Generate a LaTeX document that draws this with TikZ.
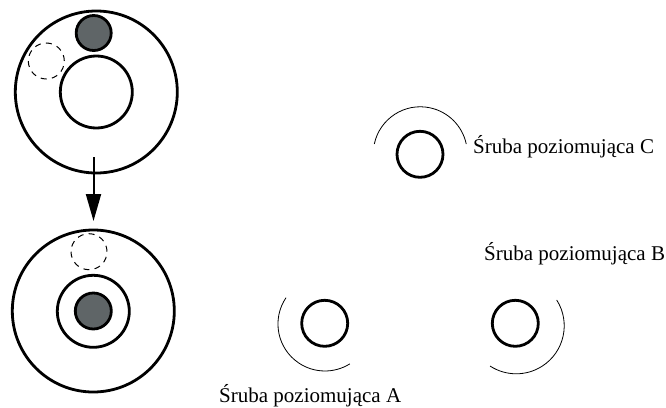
\documentclass[tikz,border=0pt]{standalone}
\usepackage{fontspec}
\setmainfont{Liberation Serif}
\usetikzlibrary{arrows.meta}
\definecolor{scrgray}{HTML}{5F6567}
\tikzset{
  x=1pt,y=-1pt,
  ring/.style={circle,draw=black,line width=2.8pt,minimum size=#1,inner sep=0pt,outer sep=0pt},
  filled/.style={ring=#1,fill=scrgray},
  ghost/.style={circle,draw=black,line width=1pt,dash pattern=on 6pt off 5.3pt,minimum size=#1,inner sep=0pt,outer sep=0pt},
  sweep/.style={draw=black,line width=0.8pt},
  lab/.style={anchor=base west,inner sep=0pt,font=\fontsize{21}{24}\selectfont},
  move/.style={draw=black,line width=2pt,-{Triangle[length=27pt,width=15pt]}}
}
\begin{document}
\begin{tikzpicture}
\useasboundingbox (0,0) rectangle (666,407);
\node[ring=162pt] (topbig) at (96.3,92) {};
\node[ring=72pt] (topin) at (96.3,92) {};
\node[filled=35pt] (topgray) at (93.7,33) {};
\node[ghost=36pt] (topdash) at (46.3,61) {};
\node[ring=162pt] (botbig) at (93.3,311) {};
\node[ring=72pt] (botin) at (93.3,311.3) {};
\node[filled=36pt] (botgray) at (93.3,311) {};
\node[ghost=36pt] (botdash) at (89,251.7) {};
\coordinate (arrowstart) at (93.5,157);
\coordinate (arrowend) at (93.5,221);
\draw[move] (arrowstart) -- (arrowend);
\node[ring=46pt] (screwC) at (420,154.3) {};
\node[ring=46pt] (screwA) at (324.7,323.3) {};
\node[ring=46pt] (screwB) at (515.3,323.3) {};
% y axis is flipped, so angles run clockwise on the page
\draw[sweep] (374.3,144) arc[start angle=-168,end angle=-12,radius=47];
\draw[sweep] (286,297.7) arc[start angle=-146,end angle=-302,radius=47];
\draw[sweep] (556.7,300) arc[start angle=-32.5,end angle=123,radius=48];
\node[lab] (labC) at (473,153.5) {Śruba poziomująca C};
\node[lab] (labB) at (484,260.5) {Śruba poziomująca B};
\node[lab] (labA) at (219,402) {Śruba poziomująca A};
\end{tikzpicture}
\end{document}
